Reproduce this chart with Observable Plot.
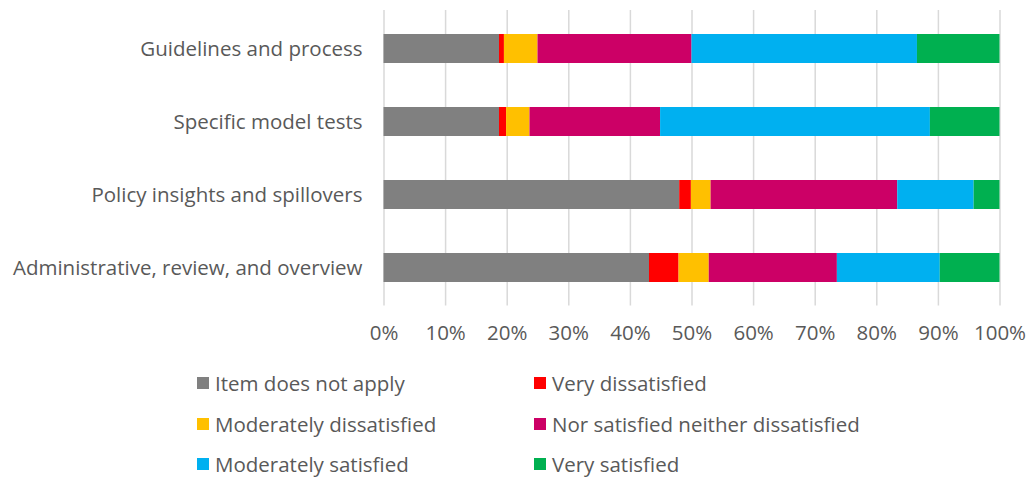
<!DOCTYPE html>
<html>
<head>
<meta charset="utf-8">
<script src="https://cdn.jsdelivr.net/npm/d3@7"></script>
<script src="https://cdn.jsdelivr.net/npm/@observablehq/plot@0.6"></script>
<style>
  html, body { margin: 0; padding: 0; background: #fff; }
  body { width: 1028px; height: 479px; overflow: hidden; font-family: "Open Sans", sans-serif; }
  #chart svg { display: block; }
  #legend { position: relative; height: 124px; }
  .item { position: absolute; display: flex; align-items: center; font-size: 20.5px; line-height: 20px; height: 20px; color: #595959; white-space: nowrap; }
  .sw { width: 12px; height: 12px; margin-right: 6px; flex: none; }
</style>
</head>
<body>
<div id="chart"></div>
<div id="legend"></div>
<script>
const categories = [
  "Guidelines and process",
  "Specific model tests",
  "Policy insights and spillovers",
  "Administrative, review, and overview"
];
const seriesNames = [
  "Item does not apply",
  "Very dissatisfied",
  "Moderately dissatisfied",
  "Nor satisfied neither dissatisfied",
  "Moderately satisfied",
  "Very satisfied"
];
const seriesColors = ["#808080", "#FF0000", "#FFC000", "#CC0066", "#00B0F0", "#00B050"];

// percentages per category (in category order)
const itemDoesNotApply       = [18.75, 18.75, 48.0, 43.1];
const veryDissatisfied       = [0.8, 1.15, 1.9, 4.8];
const moderatelyDissatisfied = [5.45, 3.8, 3.2, 4.9];
const norSatisfiedNeither    = [25.0, 21.2, 30.3, 20.8];
const moderatelySatisfied    = [36.6, 43.8, 12.4, 16.7];
const verySatisfied          = [13.4, 11.3, 4.2, 9.7];

const xTicks = [0, 10, 20, 30, 40, 50, 60, 70, 80, 90, 100];

const seriesValues = [itemDoesNotApply, veryDissatisfied, moderatelyDissatisfied,
                      norSatisfiedNeither, moderatelySatisfied, verySatisfied];
const data = [];
seriesNames.forEach((s, si) => {
  categories.forEach((c, ci) => {
    data.push({category: c, series: s, value: seriesValues[si][ci]});
  });
});

const textColor = "#595959";
const fs = 20.5;
const chart = Plot.plot({
  width: 1028,
  height: 355,
  marginLeft: 383.5,
  marginRight: 28.5,
  marginTop: 10,
  marginBottom: 49.5,
  style: {fontFamily: "'Open Sans', sans-serif", fontSize: fs + "px", color: textColor, background: "#fff"},
  x: {domain: [0, 100], ticks: xTicks, tickFormat: d => d + "%"},
  y: {domain: categories, paddingInner: 0.604, paddingOuter: 0.302},
  color: {domain: seriesNames, range: seriesColors},
  marks: [
    Plot.gridX(xTicks, {stroke: "#d9d9d9", strokeOpacity: 1, strokeWidth: 1.5}),
    Plot.barX(data, Plot.stackX({
      y: "category",
      x: "value",
      fill: "series",
      order: seriesNames
    })),
    Plot.axisX({ticks: xTicks, tickFormat: d => d + "%", tickSize: 0, tickPadding: 19, label: null, fill: textColor, fontSize: fs}),
    Plot.axisY({tickSize: 0, tickPadding: 21.5, label: null, fill: textColor, fontSize: fs})
  ]
});
document.getElementById("chart").appendChild(chart);

// legend
const legend = document.getElementById("legend");
const colX = [197, 534];
const rowY = [383, 424, 464];
seriesNames.forEach((s, i) => {
  const col = i % 2, row = Math.floor(i / 2);
  const el = document.createElement("div");
  el.className = "item";
  el.style.left = colX[col] + "px";
  el.style.top = (rowY[row] - 355 - 10) + "px";
  const sw = document.createElement("span");
  sw.className = "sw";
  sw.style.background = seriesColors[i];
  const tx = document.createElement("span");
  tx.textContent = s;
  el.appendChild(sw);
  el.appendChild(tx);
  legend.appendChild(el);
});
</script>
</body>
</html>
